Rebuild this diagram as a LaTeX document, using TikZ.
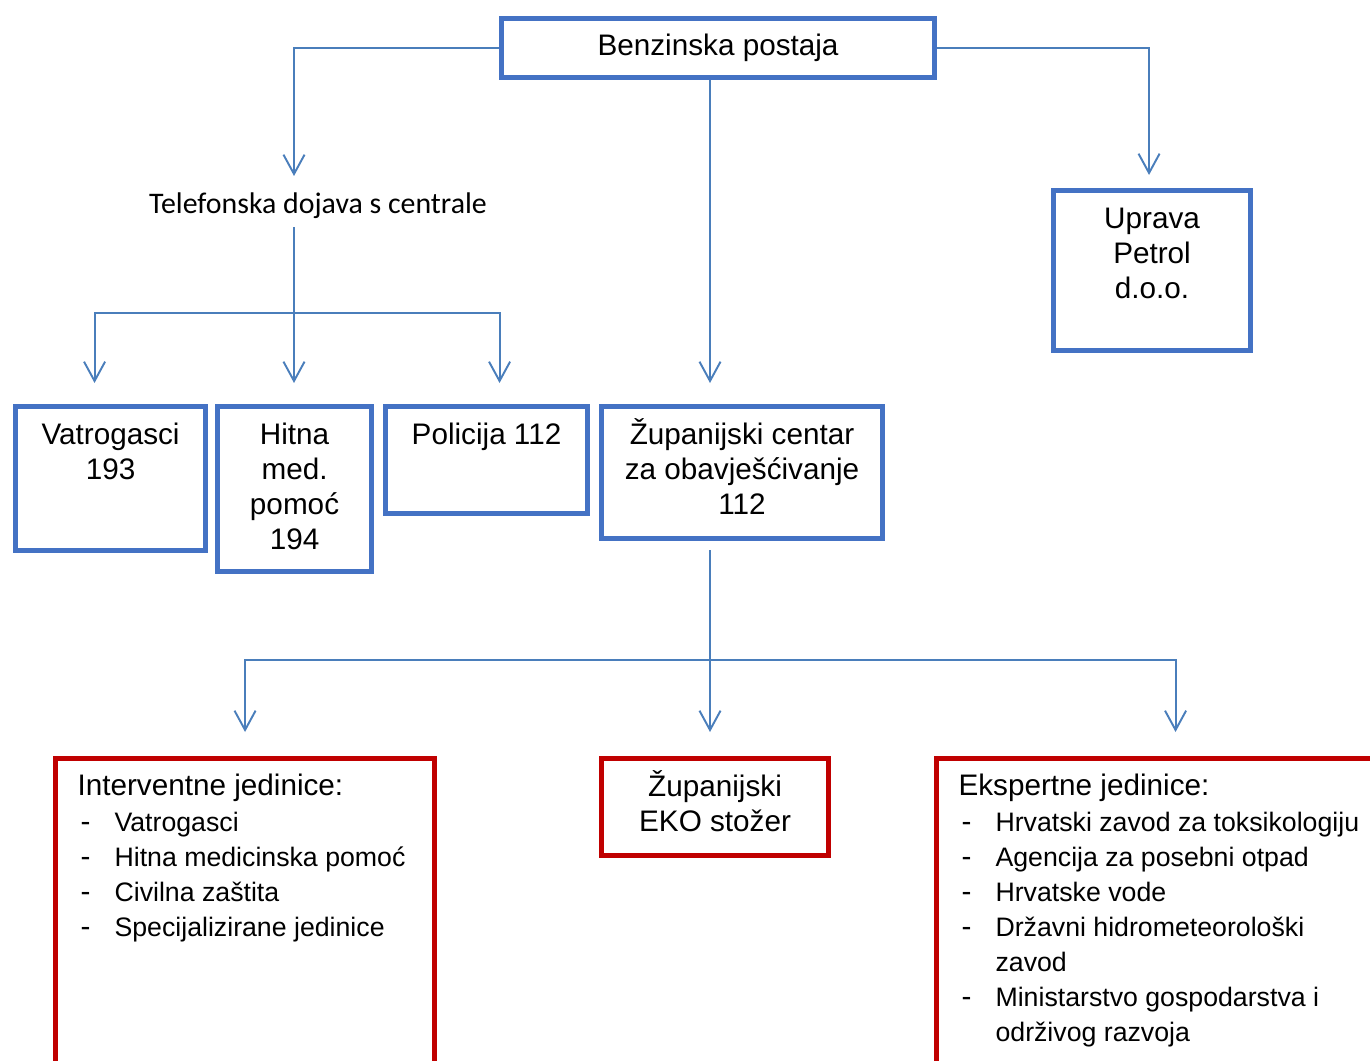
\documentclass[tikz,border=0pt]{standalone}
\usepackage{fontspec}
\setmainfont{Liberation Sans}
\newfontfamily\calibri{Carlito}
\usetikzlibrary{arrows.meta}
\definecolor{boxblue}{HTML}{4472C4}
\definecolor{lineblue}{HTML}{4A7EBB}
\definecolor{boxred}{HTML}{C00000}
\newdimen\px \px=0.02cm
\newcommand{\boxtext}[3]{\parbox[c][#2\px][t]{#1\px}{\centering\rule{0pt}{21.5pt}#3}}
\newcommand{\listtext}[3]{\parbox[c][#2\px][t]{#1\px}{\raggedright\rule{0pt}{21.3pt}#3}}
\newcommand{\crta}[1]{\\\hspace*{3\px}\makebox[34\px][l]{-}{\fontsize{15.2pt}{20pt}\selectfont #1}}
\newcommand{\nastavak}[1]{\\\hspace*{37\px}{\fontsize{15.2pt}{20pt}\selectfont #1}}

\begin{document}
\begin{tikzpicture}[x=0.02cm, y=-0.02cm,
  font=\fontsize{16.9pt}{20pt}\selectfont,
  plavi/.style={draw=boxblue, line width=2.9pt, inner sep=0pt, anchor=north west},
  crveni/.style={draw=boxred, line width=2.9pt, inner sep=0pt, anchor=north west},
  veza/.style={draw=lineblue, line width=1.1pt, -{Straight Barb[length=11pt,width=12pt]}}]
  \useasboundingbox (0,0) rectangle (1370,1061);
  \clip (0,0) rectangle (1370,1061);

  \node[plavi, minimum width=433\px, minimum height=59\px] (benz) at (499,16) {Benzinska postaja};
  \node[plavi] (upr) at (1051,188) {\boxtext{197}{160}{Uprava\\Petrol\\d.o.o.}};
  \node[font=\calibri\fontsize{17pt}{20pt}\selectfont] (tel) at (318,206) {Telefonska dojava s centrale};

  \node[plavi] (vatro) at (13,404) {\boxtext{190}{144}{Vatrogasci\\193}};
  \node[plavi] (hitna) at (215,404) {\boxtext{154}{165}{Hitna\\med.\\pomoć\\194}};
  \node[plavi] (pol) at (383,404) {\boxtext{202}{107}{Policija 112}};
  \node[plavi] (zup) at (599,404) {\boxtext{281}{132}{Županijski centar\\za obavješćivanje\\112}};

  \node[crveni, inner xsep=22\px] (interv) at (53,756) {\listtext{335}{340}{Interventne jedinice:
    \crta{Vatrogasci}\crta{Hitna medicinska pomoć}\crta{Civilna zaštita}\crta{Specijalizirane jedinice}}};
  \node[crveni] (eko) at (599,756) {\boxtext{227}{97}{Županijski\\EKO stožer}};
  \node[crveni, inner xsep=22\px] (eksp) at (934,756) {\listtext{434}{340}{Ekspertne jedinice:
    \crta{Hrvatski zavod za toksikologiju}\crta{Agencija za posebni otpad}\crta{Hrvatske vode}
    \crta{Državni hidrometeorološki}\nastavak{zavod}\crta{Ministarstvo gospodarstva i}\nastavak{održivog razvoja}}};

  % branch points
  \coordinate (telvrh) at (294,176);
  \coordinate (telniz) at (294,227);
  \coordinate (tgrana) at (294,313);
  \coordinate (zgrana) at (710,660);

  \draw[veza] (benz.west) -| (telvrh);
  \draw[veza, shorten >=13\px] (benz.east) -| ([xshift=-3\px]upr.north);
  \draw[veza, shorten >=21\px] (benz.south -| zgrana) -- (zgrana |- zup.north);
  \draw[veza, shorten >=21\px] (telniz) -- (telniz |- hitna.north);
  \draw[veza, shorten >=21\px] (tgrana) -| ([xshift=-16\px]vatro.north);
  \draw[veza, shorten >=21\px] (tgrana) -| ([xshift=13\px]pol.north);
  \draw[veza, shorten <=9\px, shorten >=24\px] (zgrana |- zup.south) -- (zgrana |- eko.north);
  \draw[veza, shorten >=24\px] (zgrana) -| (interv.north);
  \draw[veza, shorten >=24\px] (zgrana) -| (eksp.north);
\end{tikzpicture}
\end{document}
